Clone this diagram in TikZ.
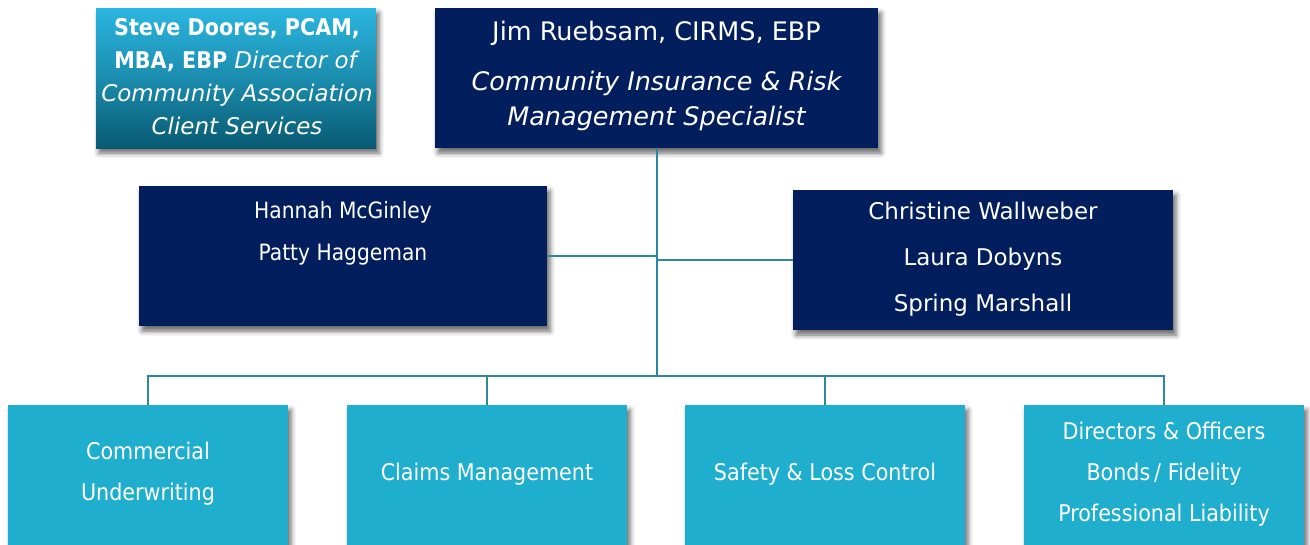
\documentclass[tikz,border=0pt]{standalone}
\usepackage{fontspec}
\setmainfont{DejaVu Sans}
\newfontfamily\condfont{DejaVu Sans Condensed}
\usetikzlibrary{shadows.blur}
\definecolor{navy}{HTML}{021E5C}
\definecolor{cyanbox}{HTML}{20AECF}
\definecolor{linec}{HTML}{2B88A0}
\definecolor{gtop}{HTML}{2BB6E0}
\definecolor{gbot}{HTML}{085A72}
\begin{document}
\begin{tikzpicture}[x=1pt,y=-1pt,
  shad/.style={blur shadow={shadow xshift=3pt,shadow yshift=-5pt,shadow blur radius=5pt,shadow opacity=60}},
  navybox/.style={fill=navy,inner sep=0pt,shad},
  cyanb/.style={fill=cyanbox,inner sep=0pt,shad,minimum width=280pt,minimum height=140pt},
  txt/.style={text=white,inner sep=0pt,align=center,font=\fontsize{20}{24}\selectfont},
  conn/.style={draw=linec,line width=2pt}]
\useasboundingbox (0,0) rectangle (1310,544);
% boxes
\node[shad,inner sep=0pt,minimum width=280pt,minimum height=140pt,top color=gtop,bottom color=gbot,middle color=gtop!55!gbot] (steve) at (236,78) {};
\node[navybox,minimum width=443pt,minimum height=140pt] (jim) at (656.5,78) {};
\node[navybox,minimum width=408pt,minimum height=140pt] (hannah) at (343,256) {};
\node[navybox,minimum width=380pt,minimum height=140pt] (christine) at (983,260) {};
\node[cyanb] (b1) at (148,475) {};
\node[cyanb] (b2) at (487,475) {};
\node[cyanb] (b3) at (825,475) {};
\node[cyanb] (b4) at (1164,475) {};
% connectors
\coordinate (bus) at (656.5,376);
\draw[conn] (jim.south) -- (bus);
\draw[conn] (hannah.east) -- (hannah.east -| jim.south);
\draw[conn] (christine.west) -- (christine.west -| jim.south);
\draw[conn] (b1.north) -- (b1.north |- bus) -- (b4.north |- bus) -- (b4.north);
\draw[conn] (b2.north) -- (b2.north |- bus);
\draw[conn] (b3.north) -- (b3.north |- bus);
% texts
\node[txt,font=\fontsize{23}{33}\selectfont\condfont\bfseries] (stevet) at (237,77) {Steve Doores, PCAM,\\ MBA, EBP \textnormal{\fontsize{23}{33}\selectfont\itshape Director of}\\ \textnormal{\fontsize{23}{33}\selectfont\itshape Community Association}\\ \textnormal{\fontsize{23}{33}\selectfont\itshape Client Services}};
\node[txt,font=\fontsize{25.5}{28}\selectfont] (jimn) at (656.5,33) {Jim Ruebsam, CIRMS, EBP};
\node[txt,font=\fontsize{25.5}{35}\selectfont\itshape] (jimt) at (656.5,101) {Community Insurance \& Risk\\ Management Specialist};
\node[txt,font=\fontsize{22.5}{42}\selectfont\condfont] (hant) at (343,233) {Hannah McGinley\\ Patty Haggeman};
\node[txt,font=\fontsize{23}{46}\selectfont] (chrt) at (983,259) {Christine Wallweber\\ Laura Dobyns\\ Spring Marshall};
\node[txt,font=\fontsize{23}{41}\selectfont\condfont] (t1) at (148,473.5) {Commercial\\ Underwriting};
\node[txt,font=\fontsize{23}{41}\selectfont\condfont] (t2) at (487,474) {Claims Management};
\node[txt,font=\fontsize{23}{41}\selectfont\condfont] (t3) at (825,474) {Safety \& Loss Control};
\node[txt,font=\fontsize{23}{41}\selectfont\condfont] (t4) at (1164,474) {Directors \& Officers\\ Bonds\,/ Fidelity\\ Professional Liability};
\end{tikzpicture}
\end{document}
